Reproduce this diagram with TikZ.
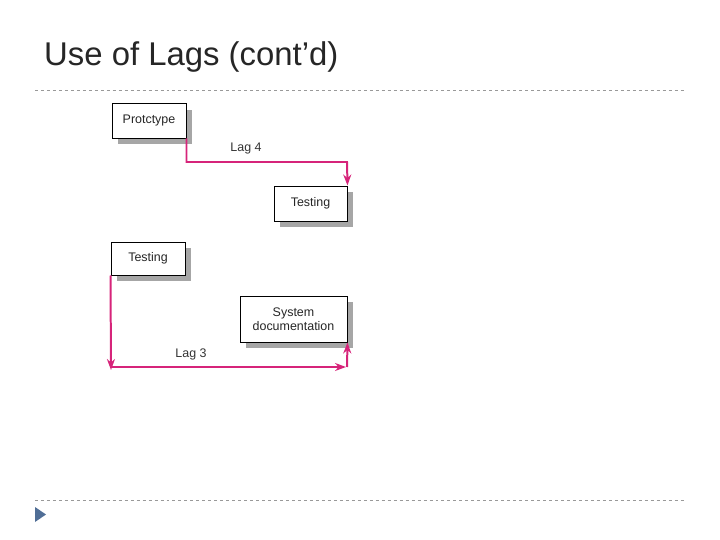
\documentclass[tikz,border=0pt]{standalone}
\usepackage{fontspec}
\setmainfont{Liberation Sans}
\usetikzlibrary{arrows.meta}
\definecolor{lagc}{RGB}{214,36,122}
\definecolor{bulc}{RGB}{80,110,150}
\begin{document}
\begin{tikzpicture}[x=1bp,y=-1bp,
  box/.style={draw=black,line width=1pt,fill=white,inner sep=0pt,font=\fontsize{12.5}{14}\selectfont,align=center,text=black!85},
  shad/.style={fill=black!35,draw=none},
  lag/.style={draw=lagc,line width=2pt},
  tip/.style={-{Stealth[length=11bp,width=8bp]}},
  lbl/.style={font=\fontsize{12.5}{14}\selectfont,text=black!80}]
\useasboundingbox (0,0) rectangle (720,540);
\node[anchor=base west,inner sep=0pt,font=\fontsize{33}{36}\selectfont,text=black!85] (title) at (44,66) {Use of Lags (cont’d)};
\draw[black!40,dashed,line width=0.8pt] (35,90) -- (685,90);
\draw[black!40,dashed,line width=0.8pt] (35,500) -- (685,500);
\fill[bulc] (35,507) -- (46,514.5) -- (35,522) -- cycle;
% shadows
\fill[shad] (118,110) rectangle (192,144);
\fill[shad] (280,192) rectangle (353,227);
\fill[shad] (117,248) rectangle (191,281);
\fill[shad] (246,302) rectangle (353,348);
% boxes
\node[box,minimum width=74bp,minimum height=34bp] (p) at (149,121) {Protctype};
\node[box,minimum width=73bp,minimum height=35bp] (t1) at (310.5,203.5) {Testing};
\node[box,minimum width=74bp,minimum height=33bp] (t2) at (148,258.5) {Testing};
\node[box,minimum width=107bp,minimum height=46bp] (s) at (293.5,319) {System\\documentation};
\coordinate (c1) at (347,162);
\coordinate (c2) at (111,367);
\coordinate (c3) at (347,367);
\draw[lag,tip] (p.south east) |- (c1) -- (t1.north east);
\draw[lag,tip] (t2.south west) -- ([yshift=-3bp]c2);
\draw[lag,tip] (c2) -- ([xshift=-1bp]c3);
\draw[lag,tip] (c3) -- (s.south east);
\node[lbl] (l4) at (246,149) {Lag 4};
\node[lbl] (l3) at (191,354) {Lag 3};
\end{tikzpicture}
\end{document}
